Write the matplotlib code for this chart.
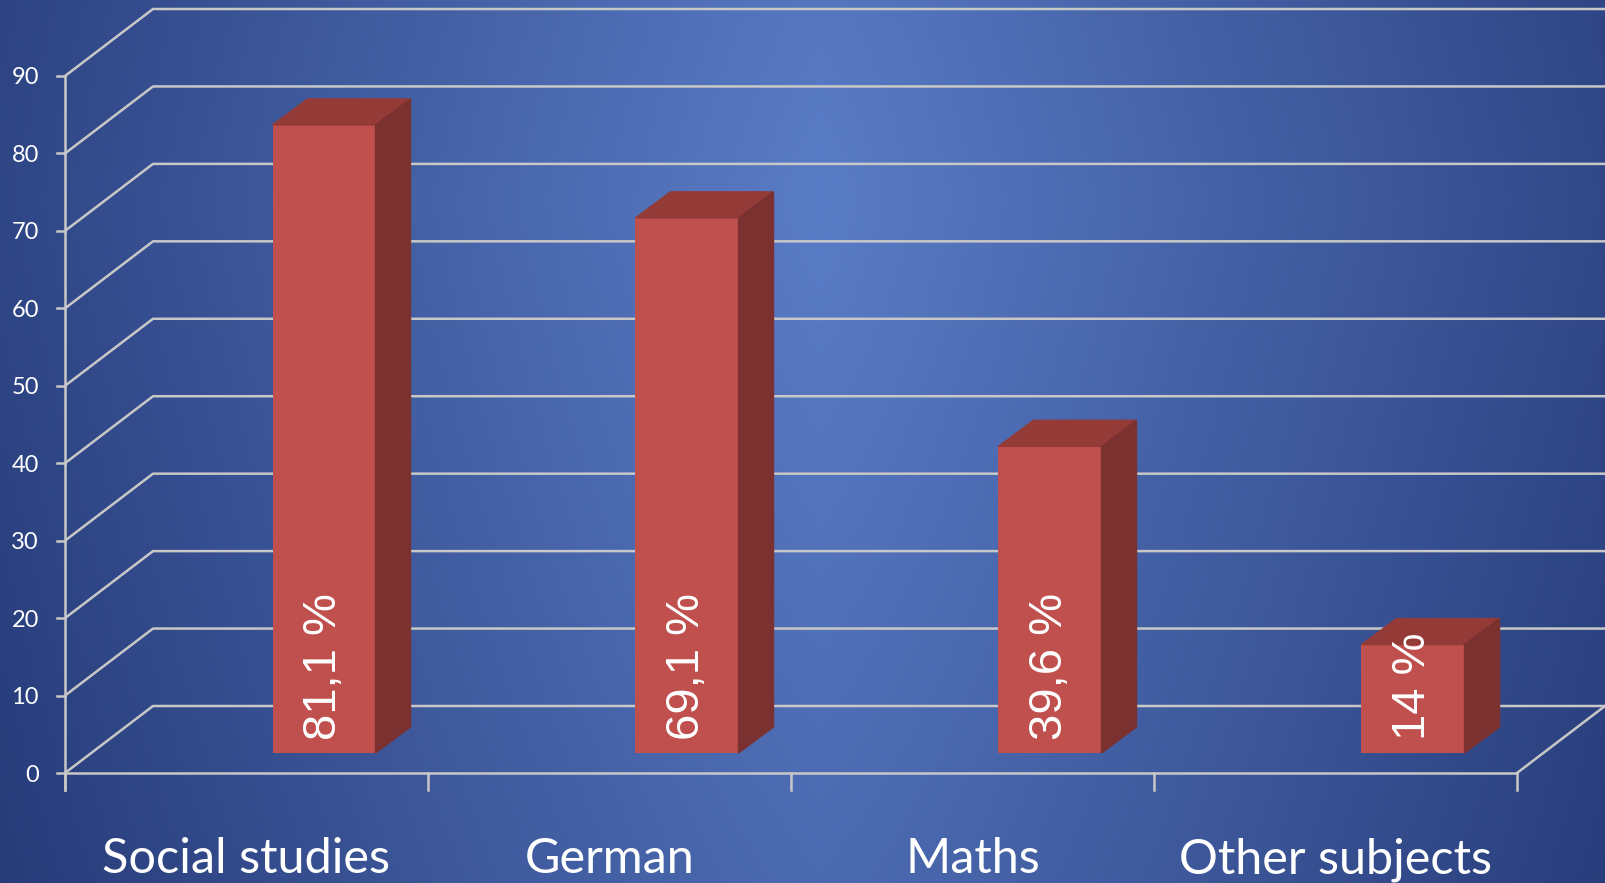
import numpy as np
import matplotlib.pyplot as plt
from matplotlib.patches import Polygon

# data
subjects = ['Social studies', 'German', 'Maths', 'Other subjects']
shares = [81.1, 69.1, 39.6, 14]
share_labels = ['81,1 %', '69,1 %', '39,6 %', '14 %']
y_ticks = list(range(0, 100, 10))

W, H = 1606, 883
fig = plt.figure(figsize=(W / 100, H / 100), dpi=100)

# blue background, lighter in the middle, darker at the sides
bg = fig.add_axes([0, 0, 1, 1])
yy, xx = np.mgrid[0:H, 0:W]
rx = np.abs(xx - 820) / 1100.0
ry = np.abs(yy - 200) / 2700.0
r = np.sqrt(rx ** 2 + ry ** 2 + 1.0 * rx * ry)
r = np.clip(r, 0, 1)[..., None]
c_mid = np.array([90, 124, 198]) / 255.0
c_edge = np.array([33, 52, 112]) / 255.0
bg.imshow(c_mid + (c_edge - c_mid) * r, aspect='auto', extent=[0, 1, 0, 1])
bg.axis('off')

# front plane of the 3d box: categories on x, values on y
ax = fig.add_axes([65 / W, 110 / H, 1452 / W, 697 / H])
n = len(subjects)
ax.set_xlim(0, n)
ax.set_ylim(0, 90)
ax.axis('off')
ax.patch.set_alpha(0)

px = n / 1452.0   # data units per pixel
py = 90 / 697.0
wall_dx, wall_dy = 88 * px, 67 * py

grid = '#c8c8c8'
lw = 1.8

# walls and gridlines
for v in y_ticks:
    ax.plot([0, wall_dx, n + wall_dx], [v, v + wall_dy, v + wall_dy],
            color=grid, lw=lw, clip_on=False, solid_capstyle='butt')
    ax.plot([-8 * px, 0], [v, v], color=grid, lw=lw, clip_on=False)
    ax.text(-26 * px, v, str(v), ha='right', va='center_baseline',
            fontsize=17, color='white', family='Lato')
ax.plot([0, 0], [-17 * py, 90], color=grid, lw=lw, clip_on=False)
ax.plot([0, n], [0, 0], color=grid, lw=lw, clip_on=False)
ax.plot([n, n + wall_dx], [0, wall_dy], color=grid, lw=lw, clip_on=False)
for i in range(n + 1):
    ax.plot([i, i], [0, -17 * py], color=grid, lw=lw, clip_on=False)

# bars
front_c, top_c, side_c = '#c0504d', '#943b38', '#7a3130'
bar_dx, bar_dy = 26 * px, 20 * py
bar_w = 103 / 363.0
deep_dx, deep_dy = 35 * px, 26 * py
for i, (v, lab) in enumerate(zip(shares, share_labels)):
    x0 = i + 0.5 + bar_dx
    x1 = x0 + bar_w
    y0, y1 = bar_dy, v + bar_dy
    ax.bar(x0, v, width=bar_w, bottom=y0, align='edge', color=front_c,
           clip_on=False, zorder=3)
    ax.add_patch(Polygon([(x0, y1), (x1, y1), (x1 + deep_dx, y1 + deep_dy),
                          (x0 + deep_dx, y1 + deep_dy)],
                         closed=True, color=top_c, clip_on=False, zorder=3))
    ax.add_patch(Polygon([(x1, y0), (x1 + deep_dx, y0 + deep_dy),
                          (x1 + deep_dx, y1 + deep_dy), (x1, y1)],
                         closed=True, color=side_c, clip_on=False, zorder=3))
    ax.text((x0 + x1) / 2, y0 + 13 * py, lab, rotation=90, ha='center',
            va='bottom', fontsize=34, color='white', family='Liberation Sans',
            zorder=4)

# category names
for i, s in enumerate(subjects):
    ax.text(i + 0.5, -100 * py, s, ha='center', va='baseline',
            fontsize=35, color='white', family='Lato', clip_on=False)

fig.savefig('out.png', dpi=100)
